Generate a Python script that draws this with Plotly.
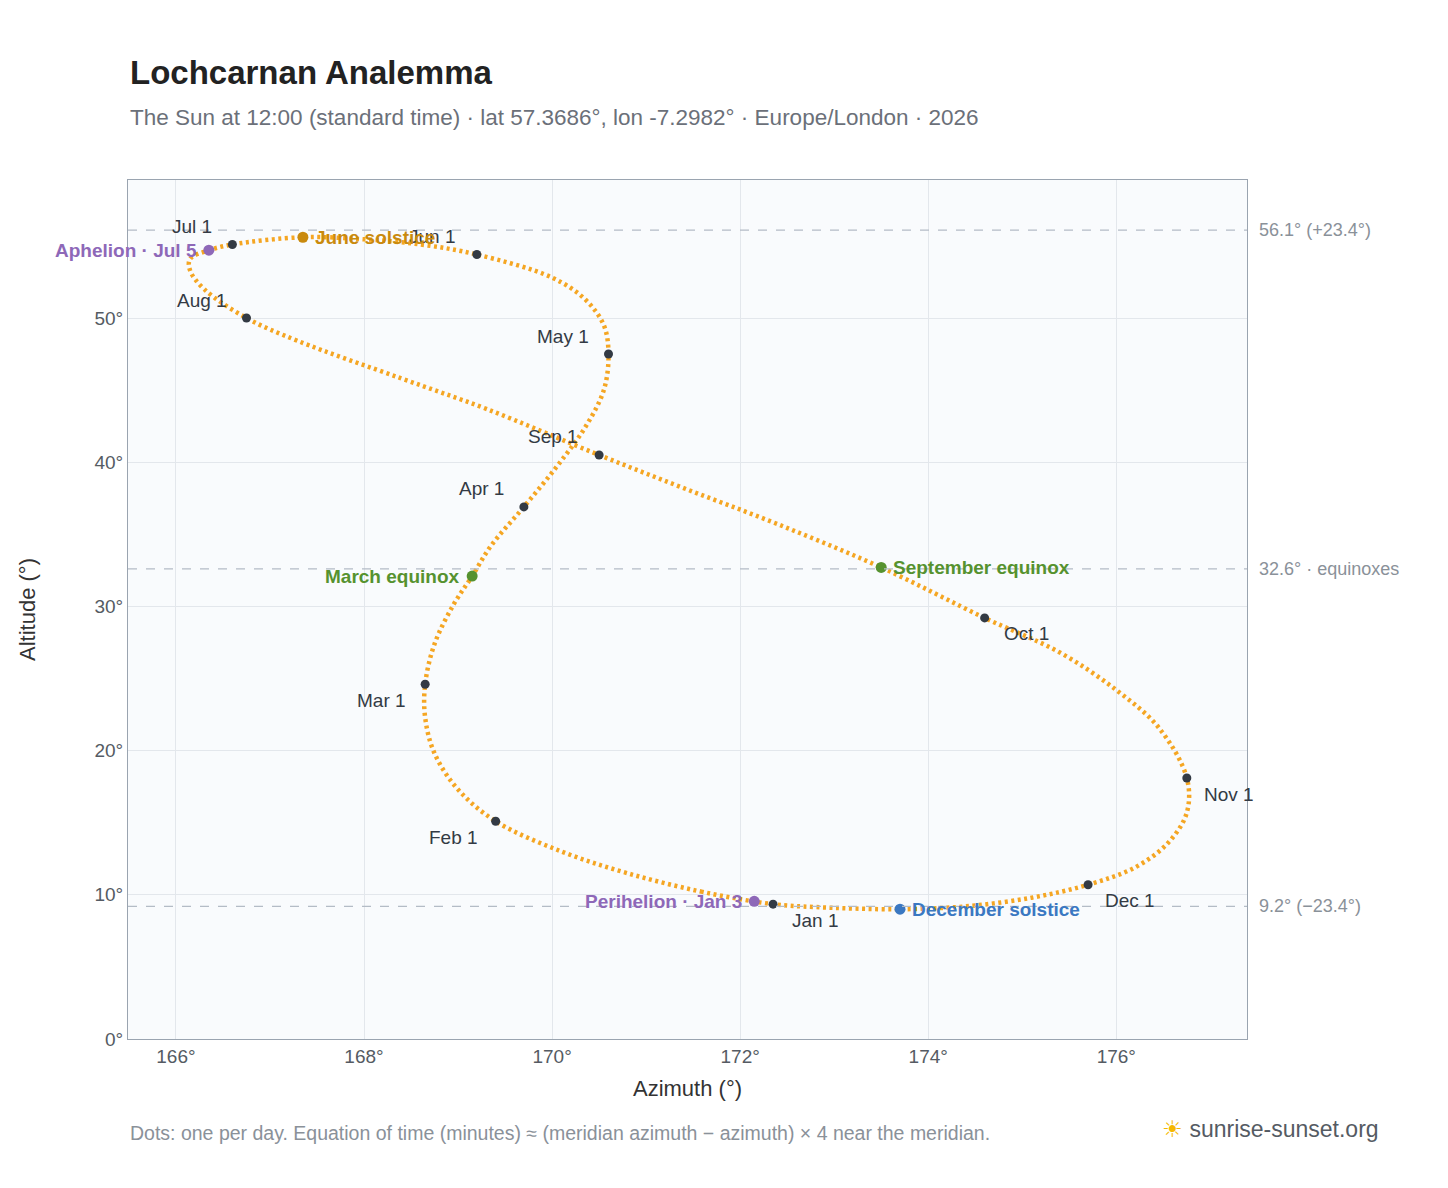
import plotly.graph_objects as go

# Analemma path (roughly weekly)
path_az = [172.35,171.6,170.8,170.1,169.4,169.0,168.75,168.65,168.65,168.75,168.95,169.15,169.35,169.7,170.05,170.35,170.55,170.6,170.55,170.35,170.0,169.2,168.6,167.9,167.35,166.6,166.35,166.15,166.15,166.3,166.75,167.3,168.4,169.3,170.5,171.4,172.4,173.5,174.6,175.4,176.0,176.45,176.75,176.75,176.55,176.2,175.7,175.1,174.4,173.7,172.8,172.35]
path_alt = [9.35,10.2,11.5,13.0,15.1,17.3,19.8,22.3,24.6,27.4,30.1,32.1,34.2,36.9,39.7,42.4,45.0,47.5,49.5,51.3,52.8,54.4,55.1,55.5,55.6,55.1,54.7,54.1,53.3,52.0,50.0,48.4,45.8,43.7,40.5,38.2,35.7,32.7,29.2,26.8,24.2,21.6,18.1,15.7,13.6,11.9,10.7,9.8,9.2,9.0,9.15,9.35]

months = ["Jan 1","Feb 1","Mar 1","Apr 1","May 1","Jun 1","Jul 1","Aug 1","Sep 1","Oct 1","Nov 1","Dec 1"]
month_az = [172.35,169.4,168.65,169.7,170.6,169.2,166.6,166.75,170.5,174.6,176.75,175.7]
month_alt = [9.35,15.1,24.6,36.9,47.5,54.4,55.1,50.0,40.5,29.2,18.1,10.7]
month_dx = [42,-42,-44,-42,-46,-45,-40,-44,-46,42,42,42]
month_dy = [16,16,16,-18,-18,-18,-18,-18,-18,16,16,16]

events = ["June solstice","March equinox","September equinox","December solstice","Aphelion · Jul 5","Perihelion · Jan 3"]
ev_az = [167.35,169.15,173.5,173.7,166.35,172.15]
ev_alt = [55.6,32.1,32.7,9.0,54.7,9.55]
ev_col = ["#c98a0e","#56922f","#56922f","#3b78c2","#8e68b8","#8e68b8"]
ev_side = ["right","left","right","right","left","left"]

ref_alt = [56.1, 32.6, 9.2]
ref_lbl = ["56.1° (+23.4°)", "32.6° · equinoxes", "9.2° (−23.4°)"]

fig = go.Figure()
fig.add_trace(go.Scatter(x=path_az, y=path_alt, mode="lines",
    line=dict(color="#f5a623", width=4.5, dash="3px,3.5px", shape="spline"), hoverinfo="skip"))
fig.add_trace(go.Scatter(x=month_az, y=month_alt, mode="markers",
    marker=dict(color="#333a44", size=9)))
fig.add_trace(go.Scatter(x=ev_az, y=ev_alt, mode="markers",
    marker=dict(color=ev_col, size=11)))

for a in ref_alt:
    fig.add_hline(y=a, line=dict(color="#b4bcc6", width=1.3, dash="dash"))
for a, t in zip(ref_alt, ref_lbl):
    fig.add_annotation(x=1, xref="paper", y=a, text=t, showarrow=False, xanchor="left",
                       xshift=10, font=dict(size=18, color="#8a9199"))
for t, x, y, dx, dy in zip(months, month_az, month_alt, month_dx, month_dy):
    fig.add_annotation(x=x, y=y, text=t, showarrow=False, xshift=dx, yshift=-dy,
                       font=dict(size=19, color="#333a44"))
for t, x, y, c, s in zip(events, ev_az, ev_alt, ev_col, ev_side):
    fig.add_annotation(x=x, y=y, text="<b>"+t+"</b>", showarrow=False,
                       xanchor="left" if s == "right" else "right",
                       xshift=10 if s == "right" else -10, font=dict(size=19, color=c))

fig.add_annotation(x=0, xref="paper", y=1.125, yref="paper", xanchor="left", yanchor="middle", showarrow=False,
                   text="<b>Lochcarnan Analemma</b>", font=dict(size=33, color="#222"))
fig.add_annotation(x=0, xref="paper", y=1.073, yref="paper", xanchor="left", yanchor="middle", showarrow=False,
                   text="The Sun at 12:00 (standard time) · lat 57.3686°, lon -7.2982° · Europe/London · 2026",
                   font=dict(size=22.5, color="#6b7079"))
fig.add_annotation(x=0, xref="paper", y=-0.109, yref="paper", xanchor="left", yanchor="middle", showarrow=False,
                   text="Dots: one per day. Equation of time (minutes) ≈ (meridian azimuth − azimuth) × 4 near the meridian.",
                   font=dict(size=19.5, color="#8a9199"))
fig.add_annotation(x=1.12, xref="paper", y=-0.105, yref="paper", xanchor="right", yanchor="middle", showarrow=False,
                   text="<span style='color:#f5b800'>☀</span> sunrise-sunset.org", font=dict(size=23, color="#555b63"))

fig.update_layout(
    width=1448, height=1188, showlegend=False,
    margin=dict(l=120, r=209, t=172, b=157),
    paper_bgcolor="white", plot_bgcolor="#f9fbfd",
    font=dict(family="Liberation Sans, Arial, sans-serif", color="#555b63"),
    xaxis=dict(range=[165.49, 177.39], dtick=2, ticksuffix="°",
               title=dict(text="Azimuth (°)", font=dict(size=22, color="#333"), standoff=14),
               gridcolor="#e3e7ec", zeroline=False, showline=True, linecolor="#9aa4b0", mirror=True,
               tickfont=dict(size=19), ticks=""),
    yaxis=dict(range=[0, 59.57], dtick=10, ticksuffix="°",
               title=dict(text="Altitude (°)", font=dict(size=22, color="#333"), standoff=52),
               gridcolor="#e3e7ec", zeroline=False, showline=True, linecolor="#9aa4b0", mirror=True,
               tickfont=dict(size=19), ticks=""),
)
fig.write_html("out.html")
